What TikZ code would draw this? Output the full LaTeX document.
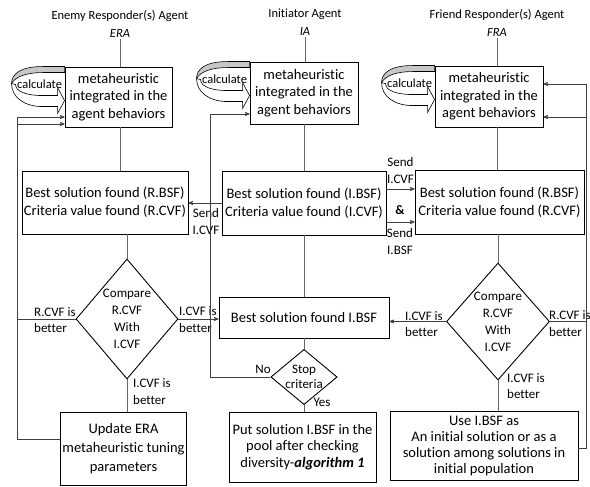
\documentclass[tikz,border=0pt]{standalone}
\usepackage{fontspec}
\setmainfont{Carlito}[Ligatures=NoCommon]
\usepackage{tikz}
\usetikzlibrary{arrows,shapes.geometric}

% curved "calculate" arrow on the left side of a box
\newcommand{\calcarrow}[1]{%
  \begin{scope}[shift={(#1.north west)},line width=0.6pt]
    \filldraw[fill=black!22] (0,0) -- (-22,0) .. controls (-45,0) and (-53,8) .. (-53,17)
      .. controls (-49,10) and (-38,6) .. (-22,6) -- (0,6) -- cycle;
    \filldraw[fill=white] (-53,17) .. controls (-53,31) and (-40,40) .. (-22,40) -- (-7,40)
      -- (-7,47) -- (0,34) -- (-7,21) -- (-7,29) -- (-22,29)
      .. controls (-38,29) and (-49,25) .. (-49,18) -- cycle;
    \node[lbl,font=\fontsize{12.5}{14}\selectfont] at (-25,17.5) {calculate};
  \end{scope}}

\begin{document}
\begin{tikzpicture}[x=1pt,y=-1pt,>=stealth']
  \tikzstyle{title}=[align=center,font=\fontsize{12.5}{18}\selectfont,inner sep=1pt]
  \tikzstyle{box}=[draw,line width=0.9pt,align=center,font=\fontsize{14.5}{17.5}\selectfont,inner sep=2pt]
  \tikzstyle{cmp}=[draw,diamond,line width=0.9pt,align=center,inner sep=0pt,font=\fontsize{13}{17}\selectfont]
  \tikzstyle{lbl}=[align=left,font=\fontsize{13}{16.5}\selectfont,inner sep=0pt]
  \tikzstyle{link}=[draw=black!60,line width=0.7pt]
  \tikzstyle{feed}=[->,draw=black!75,line width=0.7pt]

  \useasboundingbox (0,0) rectangle (590,487);

  % enemy responder
  \node[title] (tERA) at (120,24) {Enemy Responder(s) Agent\\\textit{ERA}};
  \node[box,minimum width=107pt,minimum height=60pt] (mERA) [below of=tERA,node distance=73pt,xshift=-1.5pt]
    {metaheuristic\\integrated in the\\agent behaviors};
  \node[box,minimum width=164pt,minimum height=63pt,font=\fontsize{14.5}{18}\selectfont] (bERA) [below of=mERA,node distance=105.5pt,xshift=-13.5pt]
    {Best solution found (R.BSF)\\Criteria value found (R.CVF)};
  \node[cmp,minimum width=102pt,minimum height=120pt,aspect=0.85] (dERA) [below of=bERA,node distance=116.5pt,xshift=22pt]
    {Compare\\R.CVF\\With\\I.CVF};
  \node[box,minimum width=125pt,minimum height=73pt,font=\fontsize{14.5}{19}\selectfont] (uERA) [below of=dERA,node distance=129.5pt,xshift=-3.5pt]
    {Update ERA\\metaheuristic tuning\\parameters};

  % initiator
  \node[title] (tIA) at (305,22.5) {Initiator Agent\\\textit{IA}};
  \node[box,minimum width=108pt,minimum height=62pt] (mIA) [below of=tIA,node distance=70.5pt,xshift=-1pt]
    {metaheuristic\\integrated in the\\agent behaviors};
  \node[box,minimum width=164pt,minimum height=64pt,font=\fontsize{14.5}{18}\selectfont] (bIA) [below of=mIA,node distance=110pt]
    {Best solution found (I.BSF)\\Criteria value found (I.CVF)};
  \node[box,minimum width=170pt,minimum height=41pt] (cIA) [below of=bIA,node distance=114.5pt]
    {Best solution found I.BSF};
  \node[cmp,minimum width=64pt,minimum height=54pt,aspect=1.2,font=\fontsize{13}{15.5}\selectfont] (sIA) [below of=cIA,node distance=59.5pt]
    {Stop\\criteria};
  \node[box,minimum width=147pt,minimum height=70pt,font=\fontsize{14.5}{16.5}\selectfont] (pIA) [below of=sIA,node distance=70pt,xshift=-1.5pt]
    {Put solution I.BSF in the\\pool after checking\\diversity-\textbf{\textit{algorithm 1}}};

  % friend responder
  \node[title] (tFRA) at (497,23) {Friend Responder(s) Agent\\\textit{FRA}};
  \node[box,minimum width=108pt,minimum height=61pt] (mFRA) [below of=tFRA,node distance=73.5pt,xshift=-8pt]
    {metaheuristic\\integrated in the\\agent behaviors};
  \node[box,minimum width=169pt,minimum height=64pt,font=\fontsize{14.5}{18}\selectfont] (bFRA) [below of=mFRA,node distance=105.5pt,xshift=10.5pt]
    {Best solution found (R.BSF)\\Criteria value found (R.CVF)};
  \node[cmp,minimum width=103pt,minimum height=117pt,aspect=0.88] (dFRA) [below of=bFRA,node distance=119.5pt,xshift=-1.5pt]
    {Compare\\R.CVF\\With\\I.CVF};
  \node[box,minimum width=188pt,minimum height=69pt,font=\fontsize{14.5}{16}\selectfont] (uFRA) [below of=dFRA,node distance=124pt,xshift=-14pt]
    {Use I.BSF as\\An initial solution or as a\\solution among solutions in\\initial population};

  \calcarrow{mERA}
  \calcarrow{mIA}
  \calcarrow{mFRA}

  % labels
  \node[lbl,anchor=west] (lRl) at (34,320) {R.CVF is\\better};
  \node[lbl,anchor=west] (lIl) at (179,319.5) {I.CVF is\\better};
  \node[lbl,anchor=west] (lIb) at (133,391.5) {I.CVF is\\better};
  \node[lbl,anchor=west] (lIr) at (405,324) {I.CVF is\\better};
  \node[lbl,anchor=west] (lRr) at (549,323.5) {R.CVF is\\better};
  \node[lbl,anchor=west] (lIbr) at (507,386) {I.CVF is\\better};
  \node[lbl,align=center] (lSend) at (206,221.5) {Send\\I.CVF};
  \node[lbl,align=center] (lSc) at (400.5,170.5) {Send\\I.CVF};
  \node[lbl] (lAmp) at (400,210) {\textbf{\&}};
  \node[lbl,align=center] (lSb) at (400,241.5) {Send\\I.BSF};
  \node[lbl] (lNo) at (263,369) {No};
  \node[lbl] (lYes) at (322,402) {Yes};

  % bends of the feedback lines
  \coordinate (lpA) at (17,117);
  \coordinate (lpB) at (17,124);
  \coordinate (lpC) at (17,439);
  \coordinate (npA) at (210,114);
  \coordinate (rpA) at (586,84);
  \coordinate (rpB) at (586,117);
  \coordinate (rpC) at (586,448);
  \coordinate (sdA) at (0,189);
  \coordinate (sdB) at (0,222);

  \path[link] (tERA.south) -- (tERA.south |- mERA.north)
        (mERA.south -| tERA.south) -- (bERA.north -| tERA.south)
        (bERA.south -| dERA.north) -- (dERA.north)
        (dERA.south) -- (uERA.north -| dERA.south)
        (tIA.south) -- (tIA.south |- mIA.north)
        (mIA.south) -- (bIA.north)
        (bIA.south) -- (cIA.north)
        (cIA.south) -- (sIA.north)
        (sIA.south) -- (pIA.north -| sIA.south)
        (tFRA.south) -- (tFRA.south |- mFRA.north)
        (mFRA.south -| tFRA.south) -- (bFRA.north -| tFRA.south)
        (bFRA.south -| dFRA.north) -- (dFRA.north)
        (dFRA.south) -- (uFRA.north -| dFRA.south)
  ; %end path

  \draw[feed] (dERA.west) -| (lpA) -- (lpA -| mERA.west);
  \draw[feed] (lpC -| uERA.west) -- (lpC) -- (lpB) -- (lpB -| mERA.west);
  \draw[feed] (sIA.west) -| (npA) -- (npA -| mIA.west);
  \draw[feed] (dFRA.east) -| (rpB) -- (rpB -| mFRA.east);
  \draw[feed] (rpC -| uFRA.east) -- (rpC) -- (rpA) -- (rpA -| mFRA.east);
  \draw[feed] (bIA.west) -- (bIA.west -| bERA.east);
  \draw[feed] (sdA -| bIA.east) -- (sdA -| bFRA.west);
  \draw[feed] (sdB -| bIA.east) -- (sdB -| bFRA.west);
  \draw[feed] (dERA.east) -- (dERA.east -| cIA.west);
  \draw[feed] (dFRA.west) -- (dFRA.west -| cIA.east);

\end{tikzpicture}
\end{document}
